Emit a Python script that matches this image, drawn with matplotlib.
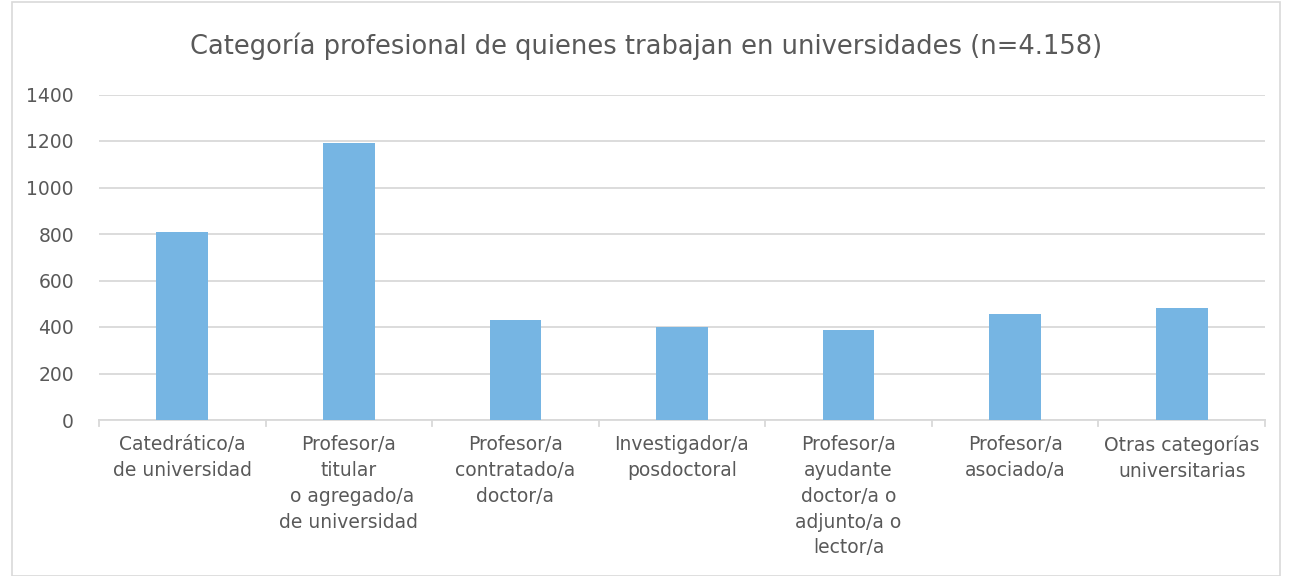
import matplotlib.pyplot as plt
from matplotlib.patches import Rectangle

# data
categories = [
    "Catedrático/a\nde universidad",
    "Profesor/a\ntitular\n o agregado/a\nde universidad",
    "Profesor/a\ncontratado/a\ndoctor/a",
    "Investigador/a\nposdoctoral",
    "Profesor/a\nayudante\ndoctor/a o\nadjunto/a o\nlector/a",
    "Profesor/a\nasociado/a",
    "Otras categorías\nuniversitarias",
]
values = [808, 1193, 431, 399, 386, 458, 483]
yticks = [0, 200, 400, 600, 800, 1000, 1200, 1400]
title = "Categoría profesional de quienes trabajan en universidades (n=4.158)"

TEXT = "#595959"
GRID = "#d9d9d9"
BAR = "#76b5e3"

plt.rcParams["font.family"] = ["DejaVu Sans"]

fig = plt.figure(figsize=(12.92, 5.76), dpi=100)
ax = fig.add_axes([99 / 1292, 1 - 420 / 576, (1265 - 99) / 1292, (420 - 94.5) / 576])

x = list(range(len(categories)))
ax.bar(x, values, width=0.31, color=BAR, zorder=3)

ax.set_xlim(-0.5, len(categories) - 0.5)
ax.set_ylim(0, 1400)
ax.set_yticks(yticks)
ax.set_yticklabels([str(v) for v in yticks], fontsize=13.5, color=TEXT)
ax.grid(axis="y", color=GRID, linewidth=1.3, zorder=0)

# category labels under the bars, tick marks between them
ax.set_xticks(x)
ax.set_xticklabels(categories, fontsize=13.5, color=TEXT, linespacing=1.45)
ax.tick_params(axis="x", length=0, pad=11)
ax.tick_params(axis="y", length=0, pad=18)
for b in [i - 0.5 for i in range(len(categories) + 1)]:
    ax.plot([b, b], [0, -0.018], transform=ax.get_xaxis_transform(),
            color=GRID, linewidth=1.3, clip_on=False)

for side in ["top", "right", "left"]:
    ax.spines[side].set_visible(False)
ax.spines["bottom"].set_color(GRID)
ax.spines["bottom"].set_linewidth(1.3)

fig.text(0.5, 1 - 46 / 576, title, ha="center", va="center",
         fontsize=18.5, color=TEXT)

# light frame around the chart area
fig.patches.append(Rectangle((12 / 1292, 0), 1 - 24 / 1292, 1 - 2 / 576,
                             transform=fig.transFigure, fill=False,
                             edgecolor=GRID, linewidth=1.2))

fig.savefig("out.png", dpi=100)
